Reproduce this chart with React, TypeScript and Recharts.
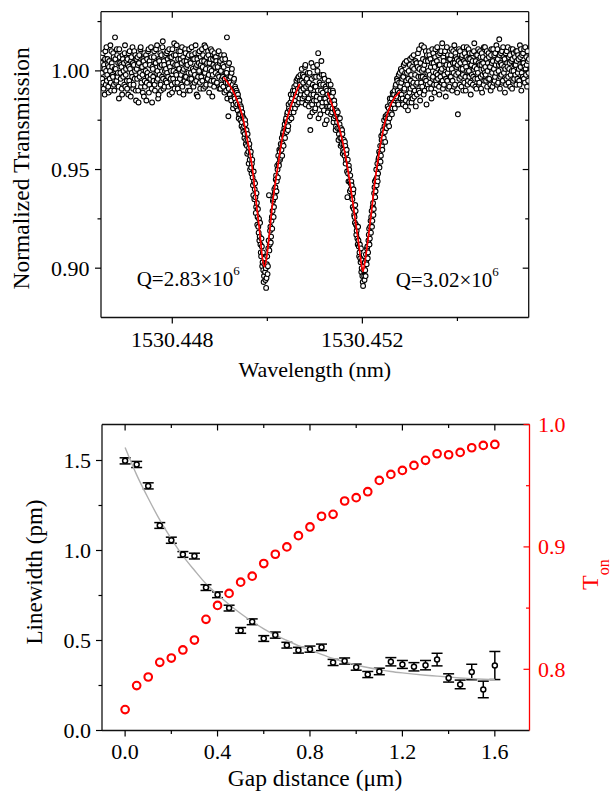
import React from 'react';
import { ComposedChart, Scatter, XAxis, YAxis, ErrorBar } from 'recharts';

const FONT = "'Liberation Serif', 'Times New Roman', Times, serif";
const RED = '#ff0000';

// ---------------- Panel (a): transmission spectrum ----------------
const wavelengthStart = 1530.44651; // nm, first sample of the sweep
const wavelengthStep = 0.0000075; // nm between samples
const transmission = [
  1.004, 0.999, 0.996, 1.007, 1.009, 0.994, 0.991, 1.003, 1.001, 0.988, 1.006, 1.010, 0.993, 1.000, 1.012, 0.995, 0.998, 1.006, 1.003, 0.992,
  0.989, 1.002, 1.005, 0.996, 1.000, 1.013, 0.994, 0.990, 1.010, 1.004, 1.002, 0.998, 0.997, 1.009, 1.007, 0.993, 0.990, 1.001, 1.017, 1.006,
  1.001, 0.994, 0.995, 1.011, 1.008, 0.997, 0.999, 1.004, 0.992, 0.986, 1.011, 1.007, 1.004, 0.999, 0.996, 1.003, 1.002, 0.991, 0.988, 1.008,
  1.006, 0.997, 1.000, 1.004, 0.993, 1.009, 1.013, 0.992, 0.998, 1.001, 1.005, 0.995, 0.991, 1.006, 1.003, 0.988, 1.009, 1.002, 0.995, 1.010,
  1.001, 0.993, 0.987, 1.005, 1.007, 0.999, 0.997, 1.012, 1.004, 0.991, 0.993, 1.003, 1.010, 0.996, 1.000, 1.008, 0.990, 0.985, 1.006, 1.001,
  0.996, 1.007, 1.003, 0.990, 0.984, 1.004, 1.008, 0.997, 0.999, 1.011, 1.012, 0.992, 0.994, 1.002, 1.002, 0.998, 0.989, 1.006, 1.005, 0.987,
  1.009, 0.995, 0.992, 1.003, 1.000, 1.008, 0.985, 0.994, 1.006, 0.999, 0.997, 1.010, 1.011, 0.989, 0.993, 1.005, 1.003, 0.996, 0.998, 1.012,
  1.007, 0.991, 0.984, 1.002, 1.001, 0.997, 0.995, 1.007, 1.010, 0.993, 0.990, 1.004, 1.004, 1.011, 0.999, 0.995, 1.013, 1.000, 0.996, 0.986,
  0.988, 1.006, 1.005, 0.998, 1.002, 1.009, 0.993, 0.990, 1.008, 1.003, 0.997, 1.012, 1.015, 0.996, 0.991, 1.005, 1.003, 0.992, 1.000, 1.008,
  0.995, 1.001, 1.009, 0.994, 0.999, 1.010, 1.006, 0.997, 0.992, 1.004, 1.011, 0.988, 1.002, 1.007, 0.996, 1.000, 1.007, 0.993, 0.989, 1.011,
  1.004, 0.996, 1.000, 1.008, 1.014, 0.991, 0.994, 1.003, 1.008, 0.999, 0.998, 1.013, 1.003, 0.994, 0.991, 1.006, 1.010, 1.001, 1.001, 0.989,
  0.996, 1.010, 1.006, 0.998, 0.993, 1.004, 1.012, 0.992, 1.000, 1.007, 0.988, 1.001, 1.005, 0.995, 0.997, 1.011, 1.009, 0.997, 1.002, 1.005,
  0.994, 1.003, 1.007, 0.990, 0.999, 1.008, 1.011, 0.996, 0.990, 1.005, 1.004, 0.999, 0.996, 1.012, 1.008, 0.993, 1.001, 1.006, 0.992, 1.000,
  1.006, 0.994, 0.998, 1.009, 1.013, 1.002, 0.995, 0.988, 1.003, 1.006, 0.987, 0.997, 1.009, 1.004, 1.000, 1.010, 0.994, 0.991, 1.007, 1.003,
  0.997, 1.005, 1.011, 0.995, 1.002, 1.008, 0.991, 0.999, 1.005, 1.013, 0.999, 0.992, 1.012, 1.001, 0.993, 1.007, 1.004, 0.996, 0.996, 1.010,
  1.008, 0.998, 0.989, 1.004, 1.001, 0.993, 1.006, 1.011, 0.995, 1.000, 1.010, 0.987, 0.998, 1.006, 1.003, 0.995, 0.992, 1.009, 1.007, 1.002,
  0.999, 1.007, 1.005, 0.994, 0.994, 1.003, 1.002, 0.998, 1.009, 1.010, 0.997, 0.991, 1.004, 1.005, 0.991, 1.000, 1.008, 0.993, 0.996, 1.006,
  1.003, 0.997, 0.992, 1.002, 1.008, 0.989, 0.996, 1.006, 0.999, 0.994, 0.990, 0.999, 1.017, 0.986, 0.994, 1.003, 0.977, 0.991, 1.004, 0.996,
  0.988, 0.994, 0.997, 0.986, 0.985, 0.999, 1.001, 0.990, 0.993, 0.981, 0.983, 0.995, 0.996, 0.987, 0.986, 0.992, 0.991, 0.984, 0.982, 0.990,
  0.989, 0.983, 0.980, 0.988, 0.986, 0.976, 0.978, 0.985, 0.983, 0.978, 0.975, 0.982, 0.981, 0.972, 0.974, 0.979, 0.977, 0.971, 0.969, 0.976,
  0.972, 0.966, 0.968, 0.975, 0.973, 0.963, 0.965, 0.970, 0.962, 0.958, 0.968, 0.965, 0.959, 0.953, 0.961, 0.963, 0.955, 0.950, 0.957, 0.959,
  0.951, 0.948, 0.953, 0.955, 0.946, 0.942, 0.937, 0.949, 0.944, 0.935, 0.940, 0.943, 0.936, 0.928, 0.931, 0.938, 0.933, 0.922, 0.926, 0.930,
  0.921, 0.918, 0.925, 0.914, 0.916, 0.923, 0.912, 0.908, 0.906, 0.915, 0.911, 0.901, 0.903, 0.908, 0.899, 0.893, 0.896, 0.902, 0.905, 0.898,
  0.894, 0.900, 0.890, 0.895, 0.902, 0.906, 0.897, 0.901, 0.910, 0.914, 0.937, 0.909, 0.912, 0.919, 0.921, 0.913, 0.916, 0.924, 0.926, 0.920,
  0.929, 0.934, 0.935, 0.926, 0.931, 0.940, 0.938, 0.936, 0.941, 0.945, 0.947, 0.939, 0.944, 0.952, 0.950, 0.946, 0.957, 0.953, 0.952, 0.960,
  0.959, 0.955, 0.956, 0.963, 0.961, 0.960, 0.966, 0.957, 0.963, 0.968, 0.969, 0.962, 0.967, 0.971, 0.973, 0.966, 0.970, 0.975, 0.976, 0.969,
  0.974, 0.978, 0.979, 0.970, 0.972, 0.983, 0.981, 0.975, 0.977, 0.980, 0.984, 0.988, 0.979, 0.976, 0.986, 0.983, 0.981, 0.990, 0.988, 0.979,
  0.983, 0.992, 0.990, 0.981, 0.985, 0.988, 0.993, 0.995, 0.987, 0.983, 0.996, 0.991, 0.989, 0.997, 0.984, 0.986, 0.995, 0.993, 0.998, 0.988,
  0.990, 0.995, 1.001, 0.984, 0.986, 0.998, 0.994, 0.991, 0.997, 0.987, 0.988, 1.002, 1.003, 0.983, 0.992, 0.995, 0.996, 0.989, 0.985, 0.999,
  0.993, 0.986, 0.982, 0.994, 0.999, 0.977, 0.970, 0.991, 0.988, 1.004, 0.996, 0.983, 0.979, 0.993, 1.002, 0.988, 0.985, 0.997, 0.992, 0.980,
  0.981, 0.992, 0.997, 0.985, 0.987, 1.003, 1.000, 0.990, 1.009, 0.976, 0.983, 0.997, 0.994, 0.986, 0.978, 0.993, 0.990, 1.005, 0.998, 0.982,
  0.984, 0.989, 0.993, 0.998, 0.980, 0.986, 0.996, 0.973, 0.986, 0.992, 0.991, 0.984, 0.975, 0.990, 0.988, 0.979, 0.982, 0.995, 0.993, 0.987,
  0.985, 0.982, 0.990, 0.993, 0.978, 0.984, 0.987, 0.979, 0.981, 0.990, 0.989, 0.974, 0.976, 0.985, 0.983, 0.980, 0.977, 0.970, 0.972, 0.978,
  0.980, 0.974, 0.971, 0.979, 0.976, 0.965, 0.968, 0.971, 0.973, 0.976, 0.966, 0.962, 0.971, 0.966, 0.963, 0.970, 0.968, 0.958, 0.960, 0.963,
  0.965, 0.959, 0.957, 0.964, 0.962, 0.953, 0.955, 0.958, 0.960, 0.949, 0.936, 0.955, 0.948, 0.944, 0.952, 0.950, 0.944, 0.939, 0.947, 0.943,
  0.940, 0.944, 0.942, 0.937, 0.935, 0.931, 0.938, 0.940, 0.930, 0.927, 0.926, 0.923, 0.932, 0.929, 0.922, 0.917, 0.919, 0.921, 0.915, 0.912,
  0.921, 0.914, 0.911, 0.906, 0.908, 0.912, 0.905, 0.903, 0.910, 0.898, 0.900, 0.904, 0.896, 0.893, 0.891, 0.899, 0.901, 0.896, 0.894, 0.903,
  0.899, 0.896, 0.907, 0.904, 0.902, 0.910, 0.911, 0.905, 0.908, 0.914, 0.917, 0.920, 0.912, 0.915, 0.921, 0.924, 0.918, 0.926, 0.929, 0.921,
  0.924, 0.931, 0.933, 0.927, 0.930, 0.938, 0.941, 0.944, 0.936, 0.939, 0.945, 0.950, 0.942, 0.946, 0.953, 0.944, 0.948, 0.955, 0.956, 0.959,
  0.951, 0.958, 0.962, 0.954, 0.957, 0.967, 0.965, 0.962, 0.960, 0.968, 0.970, 0.964, 0.966, 0.975, 0.972, 0.969, 0.964, 0.977, 0.976, 0.971,
  0.971, 0.975, 0.978, 0.982, 0.974, 0.977, 0.981, 0.972, 0.976, 0.986, 0.984, 0.980, 0.979, 0.983, 0.986, 0.978, 0.981, 0.989, 0.988, 0.984,
  0.983, 0.988, 0.990, 0.981, 0.985, 0.992, 0.993, 0.986, 0.987, 0.996, 0.995, 0.990, 0.984, 0.983, 0.998, 0.994, 0.989, 0.999, 0.992, 0.986,
  1.001, 0.994, 0.988, 1.000, 0.996, 0.986, 0.983, 0.997, 1.003, 0.990, 0.991, 1.004, 0.999, 0.982, 0.985, 0.995, 1.005, 0.999, 0.993, 0.987,
  0.980, 0.996, 1.000, 0.984, 0.989, 1.003, 1.006, 0.991, 0.995, 0.998, 0.984, 1.007, 1.002, 0.986, 0.992, 0.994, 1.008, 1.001, 0.987, 0.990,
  0.998, 1.005, 0.982, 0.993, 1.004, 0.988, 0.994, 1.002, 1.009, 0.997, 0.990, 1.011, 1.001, 0.989, 0.985, 1.004, 0.997, 0.994, 1.013, 1.000,
  0.992, 0.997, 1.006, 1.001, 0.988, 1.012, 1.003, 0.990, 0.996, 1.005, 1.010, 0.995, 0.983, 1.008, 0.999, 0.993, 1.005, 1.000, 0.991, 1.010,
  1.008, 0.998, 0.994, 1.006, 1.002, 0.991, 0.986, 1.004, 1.011, 0.996, 0.997, 1.009, 1.004, 0.993, 0.989, 1.002, 1.007, 1.011, 0.999, 0.995,
  0.993, 1.005, 1.012, 0.998, 0.996, 1.008, 1.003, 0.992, 0.988, 1.003, 1.009, 0.997, 1.000, 1.010, 0.994, 1.001, 1.014, 0.995, 0.991, 1.007,
  1.005, 0.993, 0.998, 1.009, 1.010, 1.002, 0.987, 0.996, 1.003, 1.012, 0.995, 0.999, 1.008, 0.991, 1.001, 1.006, 0.992, 1.003, 1.006, 0.997,
  0.997, 1.008, 1.011, 1.001, 0.990, 0.995, 1.004, 1.010, 0.999, 0.992, 1.013, 1.004, 0.993, 1.009, 1.007, 0.998, 1.002, 1.006, 0.989, 1.003,
  0.978, 0.999, 1.005, 1.011, 0.996, 0.993, 1.010, 1.004, 1.001, 0.997, 0.992, 1.007, 1.008, 1.001, 0.998, 0.990, 1.012, 1.005, 0.994, 1.009,
  1.004, 0.997, 0.990, 1.002, 1.007, 1.012, 1.000, 0.993, 0.995, 1.006, 1.011, 1.000, 0.997, 1.009, 1.006, 0.994, 0.988, 1.003, 1.003, 0.998,
  1.009, 1.005, 0.993, 0.997, 1.001, 1.010, 1.014, 1.002, 0.996, 0.992, 1.005, 1.008, 0.991, 1.001, 1.008, 0.996, 0.999, 1.011, 1.004, 0.993,
  0.994, 1.003, 1.010, 1.007, 0.997, 0.991, 1.003, 1.009, 0.989, 0.998, 1.007, 1.004, 1.001, 1.012, 0.995, 0.999, 1.012, 1.002, 0.998, 0.995,
  1.006, 1.010, 0.992, 1.000, 1.004, 0.996, 1.009, 1.007, 0.996, 1.002, 1.002, 0.993, 0.990, 1.008, 1.011, 1.004, 0.999, 0.992, 1.005, 1.011,
  0.994, 1.001, 1.008, 0.995, 0.997, 1.009, 1.003, 0.999, 1.013, 1.005, 0.993, 1.011, 1.006, 0.994, 1.000, 1.003, 1.016, 1.008, 0.991, 0.997,
  1.004, 1.009, 0.998, 1.003, 1.010, 0.994, 0.995, 1.012, 1.007, 0.999, 1.002, 1.006, 0.989, 1.001, 1.009, 0.993, 0.996, 1.010, 1.004, 1.002,
  1.012, 0.997, 0.994, 1.007, 1.001, 1.004, 1.008, 0.992, 0.998, 1.011, 1.005, 1.000, 0.991, 1.006, 1.011, 0.995, 1.000, 1.009, 0.996, 1.003,
  1.007, 0.998, 1.003, 1.010, 0.993, 1.005, 1.010, 0.996, 0.999, 1.008, 1.006, 1.001, 0.995, 0.993, 1.013, 1.007, 1.002, 1.011, 0.990, 0.999,
  1.008, 1.004, 0.997, 1.009, 1.004, 0.996, 1.011, 1.002, 0.994, 1.012, 1.001, 0.998, 1.007, 1.003, 0.992, 1.010, 1.005, 0.995, 0.999, 1.006,
];

const fit1Wavelength = [
  1530.44908, 1530.4493, 1530.44948, 1530.44958, 1530.44968, 1530.44976, 1530.44985,
  1530.44989, 1530.44994, 1530.44999, 1530.45003, 1530.45011, 1530.45021, 1530.45032,
  1530.45047, 1530.45068,
];
const fit1Transmission = [
  0.9968, 0.9887, 0.9768, 0.965, 0.9515, 0.9346, 0.916,
  0.9062, 0.9008, 0.9062, 0.9144, 0.933, 0.9498, 0.9667,
  0.9802, 0.9934,
];
const fit2Wavelength = [
  1530.45127, 1530.45142, 1530.45156, 1530.45166, 1530.45175, 1530.45184, 1530.45193,
  1530.45197, 1530.45201, 1530.45206, 1530.4521, 1530.45218, 1530.45226, 1530.45235,
  1530.45247, 1530.45261, 1530.45279,
];
const fit2Transmission = [
  0.989, 0.9786, 0.9667, 0.9549, 0.9414, 0.9262, 0.911,
  0.9035, 0.8983, 0.904, 0.911, 0.9262, 0.9431, 0.9583,
  0.9735, 0.9836, 0.9895,
];

const wavelengthTicks = [1530.448, 1530.45, 1530.452, 1530.454];
const wavelengthLabeled = [1530.448, 1530.452];
const transmissionTicks = [0.9, 0.925, 0.95, 0.975, 1.0, 1.025];
const transmissionLabeled = [0.9, 0.95, 1.0];

// ---------------- Panel (b): linewidth & T_on vs gap ----------------
const gapDistance = [
  0, 0.05, 0.1, 0.15, 0.2, 0.25, 0.3, 0.35, 0.4, 0.45, 0.5, 0.55, 0.6, 0.65, 0.7, 0.75, 0.8,
  0.85, 0.9, 0.95, 1.0, 1.05, 1.1, 1.15, 1.2, 1.25, 1.3, 1.35, 1.4, 1.45, 1.5, 1.55, 1.6,
];
const linewidth = [
  1.498, 1.478, 1.359, 1.139, 1.057, 0.978, 0.969, 0.794, 0.754, 0.68, 0.556, 0.604, 0.511,
  0.53, 0.474, 0.446, 0.452, 0.462, 0.378, 0.386, 0.352, 0.311, 0.328, 0.382, 0.367, 0.354,
  0.363, 0.394, 0.292, 0.256, 0.325, 0.228, 0.361,
];
const linewidthError = [
  0.017, 0.017, 0.017, 0.016, 0.017, 0.016, 0.016, 0.016, 0.016, 0.016, 0.016, 0.016, 0.016,
  0.017, 0.016, 0.016, 0.017, 0.018, 0.017, 0.017, 0.017, 0.017, 0.018, 0.023, 0.022, 0.023,
  0.026, 0.035, 0.023, 0.024, 0.043, 0.046, 0.078,
];
const tOn = [
  0.7671, 0.7867, 0.7937, 0.8057, 0.8092, 0.8158, 0.8239, 0.8408, 0.8522, 0.862, 0.8712,
  0.8761, 0.8864, 0.894, 0.9, 0.9092, 0.9163, 0.925, 0.9266, 0.9375, 0.9402, 0.9451, 0.9543,
  0.9592, 0.9625, 0.9666, 0.9707, 0.9761, 0.9753, 0.9772, 0.981, 0.9829, 0.9837,
];
const fitGap = [
  0, 0.05, 0.1, 0.15, 0.2, 0.25, 0.3, 0.35, 0.4, 0.45, 0.5, 0.55, 0.6, 0.65, 0.7, 0.75, 0.8,
  0.85, 0.9, 0.95, 1.0, 1.05, 1.1, 1.15, 1.2, 1.25, 1.3, 1.35, 1.4, 1.45, 1.5, 1.55, 1.6,
];
const fitLinewidth = [
  1.572, 1.42, 1.29, 1.17, 1.065, 0.97, 0.89, 0.815, 0.755, 0.7, 0.65, 0.605, 0.565, 0.53,
  0.5, 0.472, 0.448, 0.423, 0.4, 0.381, 0.364, 0.35, 0.338, 0.328, 0.32, 0.313, 0.307, 0.302,
  0.297, 0.292, 0.288, 0.285, 0.283,
];

const gapTicks = [0, 0.2, 0.4, 0.6, 0.8, 1.0, 1.2, 1.4, 1.6];
const gapLabeled = [0, 0.4, 0.8, 1.2, 1.6];
const linewidthTicks = [0, 0.25, 0.5, 0.75, 1.0, 1.25, 1.5];
const linewidthLabeled = [0, 0.5, 1.0, 1.5];
const tOnTicks = [0.8, 0.85, 0.9, 0.95, 1.0];
const tOnLabeled = [0.8, 0.9, 1.0];

// ---------------- derived tables ----------------
const spectrum = transmission.map((t, i) => ({ x: wavelengthStart + i * wavelengthStep, y: t }));
const fit1 = fit1Wavelength.map((w, i) => ({ x: w, y: fit1Transmission[i] }));
const fit2 = fit2Wavelength.map((w, i) => ({ x: w, y: fit2Transmission[i] }));
const lwData = gapDistance.map((g, i) => ({ x: g, y: linewidth[i], err: linewidthError[i] }));
const tOnData = gapDistance.map((g, i) => ({ x: g, y: tOn[i] }));
const lwFit = fitGap.map((g, i) => ({ x: g, y: fitLinewidth[i] }));

// ---------------- tick renderer ----------------
type TickOpts = {
  side: 'left' | 'right' | 'top' | 'bottom';
  inward: boolean;
  majors: number[];
  labels: number[];
  digits: number;
  color: string;
  gap: number;
};
const near = (arr: number[], v: number) => arr.some((a) => Math.abs(a - v) < 1e-7);

function makeTick(o: TickOpts) {
  return (props: any) => {
    const { x, y, payload } = props;
    const v = Number(payload.value);
    const len = near(o.majors, v) ? 6 : 3.5;
    const out = o.inward ? -1 : 1;
    let x2 = x;
    let y2 = y;
    if (o.side === 'left') x2 = x - out * len;
    if (o.side === 'right') x2 = x + out * len;
    if (o.side === 'bottom') y2 = y + out * len;
    if (o.side === 'top') y2 = y - out * len;
    const show = near(o.labels, v);
    let label: React.ReactNode = null;
    if (show) {
      const txt = v.toFixed(o.digits);
      if (o.side === 'left') {
        label = (
          <text x={x - o.gap} y={y + 7.5} textAnchor="end" fontSize={22} fontFamily={FONT} fill={o.color}>
            {txt}
          </text>
        );
      } else if (o.side === 'right') {
        label = (
          <text x={x + o.gap} y={y + 7.5} textAnchor="start" fontSize={22} fontFamily={FONT} fill={o.color}>
            {txt}
          </text>
        );
      } else if (o.side === 'bottom') {
        label = (
          <text x={x} y={y + o.gap} textAnchor="middle" fontSize={22} fontFamily={FONT} fill={o.color}>
            {txt}
          </text>
        );
      }
    }
    return (
      <g>
        <line x1={x} y1={y} x2={x2} y2={y2} stroke={o.color} strokeWidth={1.2} />
        {label}
      </g>
    );
  };
}

const dataCircle = (p: any) => (
  <circle cx={p.cx} cy={p.cy} r={2.4} fill="#fff" stroke="#000" strokeWidth={1.1} />
);
const lwCircle = (p: any) => (
  <circle cx={p.cx} cy={p.cy} r={2.5} fill="#fff" stroke="#000" strokeWidth={1.5} />
);
const tOnCircle = (p: any) => (
  <circle cx={p.cx} cy={p.cy} r={3.8} fill="none" stroke={RED} strokeWidth={2.1} />
);
const noShape = () => <g />;

const axisLineBlack = { stroke: '#111', strokeWidth: 1.3 };

// layer 'data' draws axes + measured points; layer 'fit' draws only the red fits on top
function TopPanel({ layer }: { layer: 'data' | 'fit' }) {
  const xDomain: [number, number] = [1530.4465, 1530.4555];
  const yDomain: [number, number] = [0.875, 1.03];
  const show = layer === 'data';
  const axLine = show ? axisLineBlack : false;
  const tk = (o: TickOpts) => (show ? makeTick(o) : false);
  return (
    <ComposedChart width={616} height={390} margin={{ top: 0, right: 0, bottom: 22.5, left: 0 }}>
      <XAxis
        xAxisId="b"
        orientation="bottom"
        type="number"
        dataKey="x"
        domain={xDomain}
        allowDataOverflow
        ticks={wavelengthTicks}
        interval={0}
        height={50}
        tickLine={false}
        tickSize={0}
        tickMargin={0}
        axisLine={axLine}
        tick={tk({ side: 'bottom', inward: false, majors: wavelengthLabeled, labels: wavelengthLabeled, digits: 3, color: '#000', gap: 29.5 })}
      />
      <XAxis
        xAxisId="t"
        orientation="top"
        type="number"
        dataKey="x"
        domain={xDomain}
        allowDataOverflow
        ticks={wavelengthTicks}
        interval={0}
        height={11.7}
        tickLine={false}
        tickSize={0}
        tickMargin={0}
        axisLine={axLine}
        tick={tk({ side: 'top', inward: true, majors: wavelengthLabeled, labels: [], digits: 3, color: '#000', gap: 0 })}
      />
      <YAxis
        yAxisId="l"
        orientation="left"
        type="number"
        dataKey="y"
        domain={yDomain}
        allowDataOverflow
        ticks={transmissionTicks}
        interval={0}
        width={101}
        tickLine={false}
        tickSize={0}
        tickMargin={0}
        axisLine={axLine}
        tick={tk({ side: 'left', inward: false, majors: transmissionLabeled, labels: transmissionLabeled, digits: 2, color: '#000', gap: 11.5 })}
      />
      <YAxis
        yAxisId="r"
        orientation="right"
        type="number"
        dataKey="y"
        domain={yDomain}
        allowDataOverflow
        ticks={transmissionTicks}
        interval={0}
        width={87.3}
        tickLine={false}
        tickSize={0}
        tickMargin={0}
        axisLine={axLine}
        tick={tk({ side: 'right', inward: true, majors: transmissionLabeled, labels: [], digits: 2, color: '#000', gap: 0 })}
      />
      {show ? (
        <Scatter xAxisId="b" yAxisId="l" data={spectrum} shape={dataCircle} isAnimationActive={false} />
      ) : null}
      {!show ? (
        <Scatter
          xAxisId="b"
          yAxisId="l"
          data={fit1}
          shape={noShape}
          line={{ stroke: RED, strokeWidth: 1.7, fill: 'none' }}
          lineType="joint"
          lineJointType="monotoneX"
          isAnimationActive={false}
        />
      ) : null}
      {!show ? (
        <Scatter
          xAxisId="b"
          yAxisId="l"
          data={fit2}
          shape={noShape}
          line={{ stroke: RED, strokeWidth: 1.7, fill: 'none' }}
          lineType="joint"
          lineJointType="monotoneX"
          isAnimationActive={false}
        />
      ) : null}
    </ComposedChart>
  );
}

function BottomPanel() {
  const xDomain: [number, number] = [-0.1, 1.75];
  return (
    <ComposedChart width={616} height={403} margin={{ top: 0, right: 0, bottom: 12.5, left: 0 }}>
      <XAxis
        xAxisId="b"
        orientation="bottom"
        type="number"
        dataKey="x"
        domain={xDomain}
        allowDataOverflow
        ticks={gapTicks}
        interval={0}
        height={50}
        tickLine={false}
        tickSize={0}
        tickMargin={0}
        axisLine={axisLineBlack}
        tick={makeTick({ side: 'bottom', inward: false, majors: gapLabeled, labels: gapLabeled, digits: 1, color: '#000', gap: 28 })}
      />
      <XAxis
        xAxisId="t"
        orientation="top"
        type="number"
        dataKey="x"
        domain={xDomain}
        allowDataOverflow
        ticks={gapTicks}
        interval={0}
        height={34.5}
        tickLine={false}
        tickSize={0}
        tickMargin={0}
        axisLine={axisLineBlack}
        tick={makeTick({ side: 'top', inward: true, majors: gapLabeled, labels: [], digits: 1, color: '#000', gap: 0 })}
      />
      <YAxis
        yAxisId="l"
        orientation="left"
        type="number"
        dataKey="y"
        domain={[0, 1.7]}
        allowDataOverflow
        ticks={linewidthTicks}
        interval={0}
        width={102}
        tickLine={false}
        tickSize={0}
        tickMargin={0}
        axisLine={axisLineBlack}
        tick={makeTick({ side: 'left', inward: false, majors: linewidthLabeled, labels: linewidthLabeled, digits: 1, color: '#000', gap: 11 })}
      />
      <YAxis
        yAxisId="r"
        orientation="right"
        type="number"
        dataKey="y"
        domain={[0.75, 1.0]}
        allowDataOverflow
        ticks={tOnTicks}
        interval={0}
        width={86.5}
        tickLine={false}
        tickSize={0}
        tickMargin={0}
        axisLine={{ stroke: RED, strokeWidth: 1.3 }}
        tick={makeTick({ side: 'right', inward: true, majors: tOnLabeled, labels: tOnLabeled, digits: 1, color: RED, gap: 8.5 })}
      />
      <Scatter
        xAxisId="b"
        yAxisId="l"
        data={lwFit}
        shape={noShape}
        line={{ stroke: '#b0b0b0', strokeWidth: 1.4, fill: 'none' }}
        lineType="joint"
        lineJointType="monotoneX"
        isAnimationActive={false}
      />
      <Scatter xAxisId="b" yAxisId="l" data={lwData} shape={lwCircle} isAnimationActive={false}>
        <ErrorBar dataKey="err" direction="y" width={5.5} stroke="#000" strokeWidth={1.5} />
      </Scatter>
      <Scatter xAxisId="b" yAxisId="r" data={tOnData} shape={tOnCircle} isAnimationActive={false} />
    </ComposedChart>
  );
}

export default function App() {
  return (
    <div style={{ position: 'absolute', left: 0, top: 0, width: 616, height: 793, background: '#fff', fontFamily: FONT }}>
      <div style={{ position: 'absolute', left: 0, top: 0 }}>
        <TopPanel layer="data" />
      </div>
      <div style={{ position: 'absolute', left: 0, top: 0, pointerEvents: 'none' }}>
        <TopPanel layer="fit" />
      </div>
      <div style={{ position: 'absolute', left: 0, top: 390 }}>
        <BottomPanel />
      </div>
      <svg
        width={616}
        height={793}
        style={{ position: 'absolute', left: 0, top: 0, pointerEvents: 'none' }}
        fontFamily={FONT}
      >
        <text x={29.5} y={168.4} transform="rotate(-90 29.5 168.4)" textAnchor="middle" fontSize={23.5} fill="#000">
          Normalized Transmission
        </text>
        <text x={314.8} y={377} textAnchor="middle" fontSize={22} fill="#000">
          Wavelength (nm)
        </text>
        <text x={136.7} y={286} fontSize={21} fill="#000">
          Q=2.83×10<tspan fontSize={13} dy={-11}>6</tspan>
        </text>
        <text x={395.7} y={286.7} fontSize={21} fill="#000">
          Q=3.02×10<tspan fontSize={13} dy={-11}>6</tspan>
        </text>
        <text x={42} y={572} transform="rotate(-90 42 572)" textAnchor="middle" fontSize={23} fill="#000">
          Linewidth (pm)
        </text>
        <text x={315} y={786} textAnchor="middle" fontSize={23.5} fill="#000">
          Gap distance (μm)
        </text>
        <text x={598} y={590} transform="rotate(-90 598 590)" fontSize={24} fill={RED}>
          T<tspan fontSize={16} dy={11}>on</tspan>
        </text>
      </svg>
    </div>
  );
}
